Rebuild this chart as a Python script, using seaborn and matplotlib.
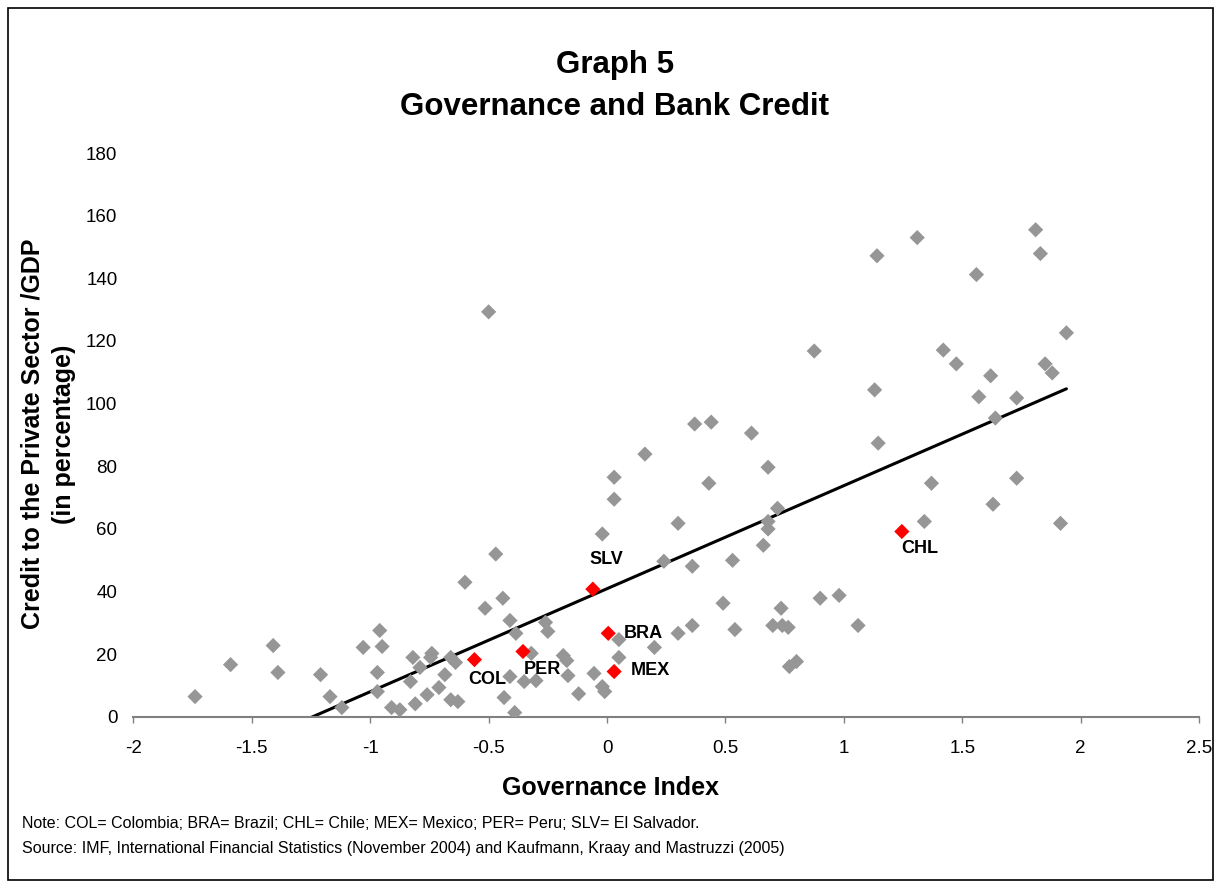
import matplotlib
matplotlib.use("Agg")
import matplotlib.pyplot as plt
import numpy as np
import pandas as pd
import seaborn as sns
from matplotlib.patches import Rectangle
from matplotlib.ticker import MultipleLocator, FuncFormatter

# Governance index vs credit to private sector (% of GDP), other countries
gov_other = [
    -1.74, -1.59, -1.41, -1.39, -1.21, -1.17, -1.12, -1.03, -0.96, -0.95,
    -0.97, -0.97, -0.91, -0.875, -0.82, -0.83, -0.81, -0.79, -0.76, -0.74,
    -0.745, -0.71, -0.685, -0.66, -0.66, -0.63, -0.64, -0.60, -0.515, -0.50,
    -0.47, -0.44, -0.435, -0.41, -0.41, -0.39, -0.385, -0.35, -0.32, -0.30,
    -0.26, -0.25, -0.185, -0.17, -0.165, -0.12, -0.055, -0.02, -0.01, -0.02,
    0.03, 0.03, 0.05, 0.05, 0.16, 0.20, 0.24, 0.30, 0.30, 0.36,
    0.36, 0.37, 0.43, 0.44, 0.49, 0.53, 0.54, 0.61, 0.66, 0.68,
    0.68, 0.68, 0.72, 0.70, 0.735, 0.74, 0.765, 0.77, 0.80, 0.875,
    0.90, 0.98, 1.06, 1.13, 1.14, 1.145, 1.31, 1.34, 1.37, 1.42,
    1.475, 1.56, 1.57, 1.62, 1.63, 1.64, 1.73, 1.73, 1.81, 1.83,
    1.85, 1.88, 1.915, 1.94,
]
credit_other = [
    6.5, 16.7, 22.8, 14.2, 13.5, 6.5, 3.0, 22.2, 27.6, 22.5,
    14.2, 8.1, 3.0, 2.3, 19.0, 11.3, 4.2, 15.8, 7.1, 20.3,
    19.0, 9.4, 13.5, 5.5, 19.0, 4.9, 17.4, 43.0, 34.7, 129.3,
    52.0, 37.9, 6.2, 12.9, 30.8, 1.4, 26.7, 11.3, 20.3, 11.6,
    30.2, 27.3, 19.6, 18.0, 13.2, 7.4, 13.9, 9.7, 8.1, 58.4,
    76.5, 69.5, 24.7, 19.0, 83.9, 22.2, 49.7, 61.8, 26.7, 29.2,
    48.1, 93.5, 74.6, 94.1, 36.3, 50.0, 27.9, 90.6, 54.8, 79.7,
    62.4, 60.0, 66.6, 29.2, 34.7, 29.2, 28.6, 16.1, 17.7, 116.8,
    37.9, 38.8, 29.2, 104.4, 147.2, 87.4, 153.0, 62.4, 74.6, 117.1,
    112.7, 141.2, 102.2, 108.9, 67.9, 95.4, 101.8, 76.2, 155.5, 147.9,
    112.7, 109.8, 61.8, 122.6,
]

# Highlighted Latin American countries
hl_codes = ["COL", "PER", "SLV", "BRA", "MEX", "CHL"]
hl_gov = [-0.56, -0.355, -0.06, 0.005, 0.03, 1.245]
hl_credit = [18.3, 20.9, 40.8, 26.7, 14.5, 59.2]

other = pd.DataFrame({"gov": gov_other, "credit": credit_other})
hl = pd.DataFrame({"code": hl_codes, "gov": hl_gov, "credit": hl_credit})
everything = pd.concat([other, hl[["gov", "credit"]]], ignore_index=True)

sns.set_style("white")
plt.rcParams['font.family'] = ['Liberation Sans', 'DejaVu Sans']
plt.rcParams['axes.unicode_minus'] = False
plt.rcParams['text.color'] = 'black'
plt.rcParams['axes.labelcolor'] = 'black'
plt.rcParams['xtick.color'] = 'black'
plt.rcParams['ytick.color'] = 'black'

fig = plt.figure(figsize=(12.2, 8.88), dpi=100)
ax = fig.add_axes([0.1094, 0.1926, 0.8734, 0.6351])

sns.scatterplot(data=other, x="gov", y="credit", ax=ax, marker="D", s=60,
                color="#969696", edgecolor="none", zorder=3)
sns.regplot(data=everything, x="gov", y="credit", ax=ax, scatter=False, ci=None,
            truncate=True, line_kws={"color": "black", "linewidth": 2.2, "zorder": 2})
sns.scatterplot(data=hl, x="gov", y="credit", ax=ax, marker="D", s=60,
                color="#ff0000", edgecolor="none", zorder=4)

# label offsets (in points) relative to each red marker
offsets = {"COL": (9, -14), "PER": (14, -13), "SLV": (10, 21),
           "BRA": (25, 0), "MEX": (26, 1), "CHL": (13, -12)}
for _, r in hl.iterrows():
    ax.annotate(r["code"], (r["gov"], r["credit"]), xytext=offsets[r["code"]],
                textcoords="offset points", ha="center", va="center",
                fontsize=13, fontweight="bold")

ax.set_xlim(-2, 2.5)
ax.set_ylim(0, 180)
ax.xaxis.set_major_locator(MultipleLocator(0.5))
ax.yaxis.set_major_locator(MultipleLocator(20))
ax.xaxis.set_major_formatter(FuncFormatter(lambda v, p: f"{v:g}"))
ax.tick_params(axis="x", direction="out", length=4.5, width=1, color="#808080",
               labelsize=13.5, pad=12, bottom=True)
ax.tick_params(axis="y", length=0, labelsize=13.5, pad=11.5)
for side in ["top", "right", "left"]:
    ax.spines[side].set_visible(False)
ax.spines["bottom"].set_color("#808080")
ax.spines["bottom"].set_linewidth(1.5)

ax.set_xlabel("")
ax.set_ylabel("")
fig.text(610 / 1220, 1 - 788 / 888, "Governance Index", ha="center", va="center",
         fontsize=18, fontweight="bold")
fig.text(48 / 1220, 1 - 434 / 888, "Credit to the Private Sector /GDP\n(in percentage)",
         ha="center", va="center", rotation=90, multialignment="center",
         fontsize=18, fontweight="bold", linespacing=1.4)

fig.text(615 / 1220, 1 - 65 / 888, "Graph 5", ha="center", va="center",
         fontsize=22.5, fontweight="bold")
fig.text(615 / 1220, 1 - 107 / 888, "Governance and Bank Credit", ha="center", va="center",
         fontsize=22.5, fontweight="bold")

fig.text(0.018, 0.073, "Note: COL= Colombia; BRA= Brazil; CHL= Chile; MEX= Mexico; PER= Peru; SLV= El Salvador.",
         ha="left", va="center", fontsize=11.5)
fig.text(0.018, 0.044, "Source: IMF, International Financial Statistics (November 2004) and Kaufmann, Kraay and Mastruzzi (2005)",
         ha="left", va="center", fontsize=11.5)

fig.patches.append(Rectangle((8 / 1220, 8 / 888), 1205 / 1220, 872 / 888,
                             transform=fig.transFigure, fill=False,
                             edgecolor="black", linewidth=1.2))

fig.savefig("out.png", dpi=100)
